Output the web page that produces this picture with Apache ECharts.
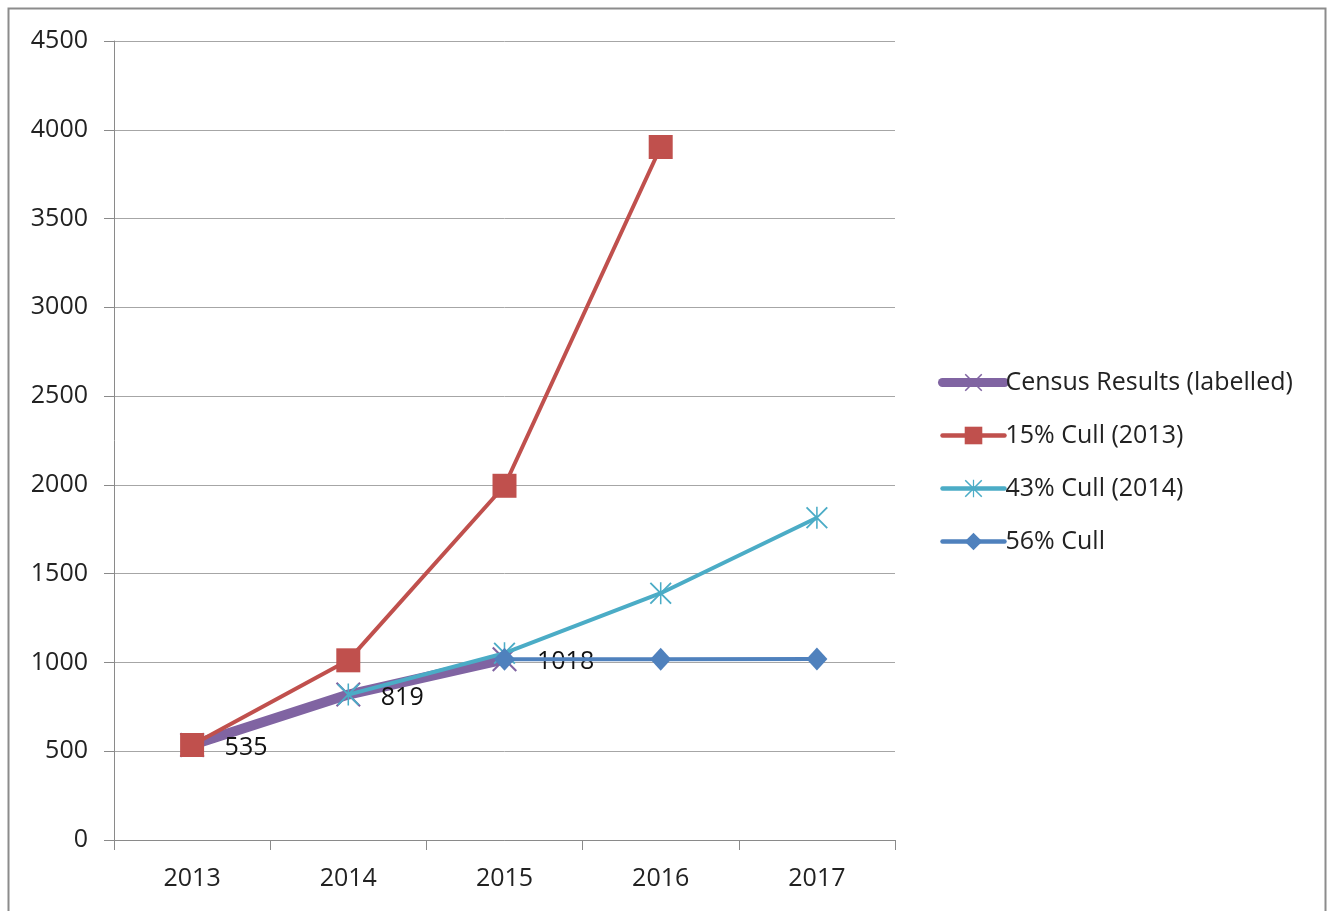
<!DOCTYPE html>
<html>
<head>
<meta charset="utf-8">
<script src="https://cdn.jsdelivr.net/npm/echarts@6/dist/echarts.min.js"></script>
<style>html,body{margin:0;padding:0;background:#fff;}#c{width:1327px;height:911px;}</style>
</head>
<body>
<div id="c"></div>
<script>
const categories = ['2013', '2014', '2015', '2016', '2017'];
const censusResults = [535, 819, 1018, null, null];
const cull15 = [535, 1012, 1995, 3903, null];
const cull43 = [null, 819, 1052, 1390, 1815];
const cull56 = [null, null, 1018, 1018, 1020];
const yTicks = [0, 500, 1000, 1500, 2000, 2500, 3000, 3500, 4000, 4500];

const FONT = '"Open Sans", "Liberation Sans", sans-serif';
const X_PATH = 'path://M0,1.2L1.2,0L20,18.8L18.8,20Z M18.8,0L20,1.2L1.2,20L0,18.8Z';
const STAR_PATH = 'path://M0,1.2L1.2,0L20,18.8L18.8,20Z M18.8,0L20,1.2L1.2,20L0,18.8Z M9.3,0L10.7,0L10.7,20L9.3,20Z';

const chart = echarts.init(document.getElementById('c'), null, {renderer: 'canvas'});
chart.setOption({
  animation: false,
  backgroundColor: '#fff',
  textStyle: {fontFamily: FONT},
  graphic: [{
    type: 'rect', shape: {x: 8.5, y: 8.5, width: 1317, height: 920},
    style: {fill: 'none', stroke: '#8c8c8c', lineWidth: 2}, silent: true
  }],
  grid: {left: 114, right: 432, top: 41, bottom: 71},
  legend: {
    orient: 'vertical', left: 933, top: 365, itemGap: 28, itemWidth: 62, itemHeight: 22,
    textStyle: {fontFamily: FONT, fontSize: 25, color: '#222', padding: [0, 0, 0, -4]},
    data: [
      {name: 'Census Results (labelled)', lineStyle: {width: 9, cap: 'round'}},
      {name: '15% Cull (2013)', lineStyle: {width: 4.5, cap: 'round'}},
      {name: '43% Cull (2014)', lineStyle: {width: 4.5, cap: 'round'}},
      {name: '56% Cull', lineStyle: {width: 4.5, cap: 'round'}}
    ]
  },
  xAxis: {
    type: 'category', data: categories, boundaryGap: true,
    axisLine: {lineStyle: {color: '#8a8a8a', width: 1}},
    axisTick: {show: true, length: 10, lineStyle: {color: '#8a8a8a'}},
    axisLabel: {fontFamily: FONT, fontSize: 25, color: '#222', margin: 26},
    splitLine: {show: false}
  },
  yAxis: {
    type: 'value', min: 0, max: 4500, interval: 500,
    axisLine: {show: true, lineStyle: {color: '#8a8a8a', width: 1}},
    axisTick: {show: true, length: 10, lineStyle: {color: '#8a8a8a'}},
    axisLabel: {fontFamily: FONT, fontSize: 25, color: '#222', margin: 26,
      formatter: v => yTicks.includes(v) ? String(v) : ''},
    splitLine: {show: true, lineStyle: {color: '#a6a6a6', width: 1}}
  },
  series: [
    {
      name: 'Census Results (labelled)', type: 'line', data: censusResults, z: 2,
      lineStyle: {color: '#8064A2', width: 10, cap: 'round', join: 'round'},
      itemStyle: {color: '#8064A2'},
      symbol: X_PATH, symbolSize: 25, showAllSymbol: true,
      label: {show: true, position: 'right', distance: 20, offset: [0, 3], color: '#111', fontSize: 25, fontFamily: FONT}
    },
    {
      name: '15% Cull (2013)', type: 'line', data: cull15, z: 3,
      lineStyle: {color: '#C0504D', width: 4},
      itemStyle: {color: '#C0504D'},
      symbol: 'rect', symbolSize: 24
    },
    {
      name: '43% Cull (2014)', type: 'line', data: cull43, z: 4,
      lineStyle: {color: '#4BACC6', width: 4},
      itemStyle: {color: '#4BACC6'},
      symbol: STAR_PATH, symbolSize: 22
    },
    {
      name: '56% Cull', type: 'line', data: cull56, z: 5,
      lineStyle: {color: '#4F81BD', width: 4},
      itemStyle: {color: '#4F81BD'},
      symbol: 'diamond', symbolSize: [21, 23]
    }
  ]
});
</script>
</body>
</html>
